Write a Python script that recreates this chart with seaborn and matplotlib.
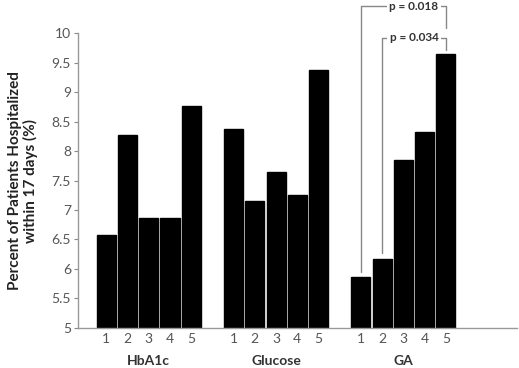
import matplotlib
matplotlib.use("Agg")
import matplotlib.pyplot as plt
import matplotlib.transforms as mtransforms
import pandas as pd
import seaborn as sns

# values (percent hospitalized, by quintile)
groups = ["HbA1c", "Glucose", "GA"]
quintiles = ["1", "2", "3", "4", "5"]
hba1c = [6.57, 8.27, 6.87, 6.87, 8.77]
glucose = [8.37, 7.15, 7.65, 7.25, 9.37]
ga = [5.87, 6.17, 7.85, 8.33, 9.65]
p_labels = ["p = 0.018", "p = 0.034"]

rows = []
for g, vals in enumerate([hba1c, glucose, ga]):
    for q, v in enumerate(vals):
        rows.append({"group": groups[g], "quintile": quintiles[q],
                     "slot": g * 6 + q, "pct": v})
df = pd.DataFrame(rows)

sns.set_style("ticks")
plt.rcParams["font.family"] = ["Lato", "DejaVu Sans"]

fig = plt.figure(figsize=(5.19, 3.68), dpi=100)
ax = fig.add_axes([0.150, 0.109, 0.846, 0.801])

sns.barplot(data=df, x="slot", y="pct", native_scale=True, color="black",
            saturation=1, width=0.9, edgecolor="black", errorbar=None, ax=ax)

ax.set_ylim(5, 10)
ax.set_xlim(-1.34, 19.35)
ax.set_yticks([5, 5.5, 6, 6.5, 7, 7.5, 8, 8.5, 9, 9.5, 10])
ax.set_yticklabels(["5", "5.5", "6", "6.5", "7", "7.5", "8", "8.5", "9", "9.5", "10"])
ax.set_xticks(df["slot"])
ax.set_xticklabels(df["quintile"])
ax.tick_params(axis="y", length=3, width=0.8, color="#888888", labelcolor="#555555",
               labelsize=10, pad=2)
ax.tick_params(axis="x", length=0, labelcolor="#555555", labelsize=10, pad=4)
sns.despine(ax=ax)
for side in ["left", "bottom"]:
    ax.spines[side].set_color("#999999")
    ax.spines[side].set_linewidth(1)

ax.set_xlabel("")
ax.set_ylabel("Percent of Patients Hospitalized\nwithin 17 days (%)", fontsize=11,
              fontweight="bold", color="#222222", labelpad=10, linespacing=1.05)

# group names under the quintile labels
trans = mtransforms.blended_transform_factory(ax.transData, ax.transAxes)
for g, name in enumerate(groups):
    ax.text(g * 6 + 2, -0.111, name, transform=trans, ha="center", va="center",
            fontsize=10, fontweight="bold", color="#333333")

# significance brackets on GA quintiles
ga_df = df[df["group"] == "GA"].reset_index(drop=True)
x1, x2, x5 = ga_df["slot"][0], ga_df["slot"][1], ga_df["slot"][4]
y1, y2, y5 = ga_df["pct"][0], ga_df["pct"][1], ga_df["pct"][4]
line_kw = dict(color="#888888", lw=1, clip_on=False)
ax.plot([x1, x1, x5, x5], [y1 + 0.08, 10.46, 10.46, y5 + 0.43], **line_kw)
ax.plot([x2, x2, x5, x5], [y2 + 0.1, 9.92, 9.92, y5 + 0.06], **line_kw)
for ytop, label in zip([10.46, 9.92], p_labels):
    ax.text(14.5, ytop, label, ha="center", va="center", fontsize=8.5,
            fontweight="bold", color="#333333", clip_on=False,
            bbox=dict(facecolor="white", edgecolor="none", pad=1.5))

fig.savefig("out.png", dpi=100)
